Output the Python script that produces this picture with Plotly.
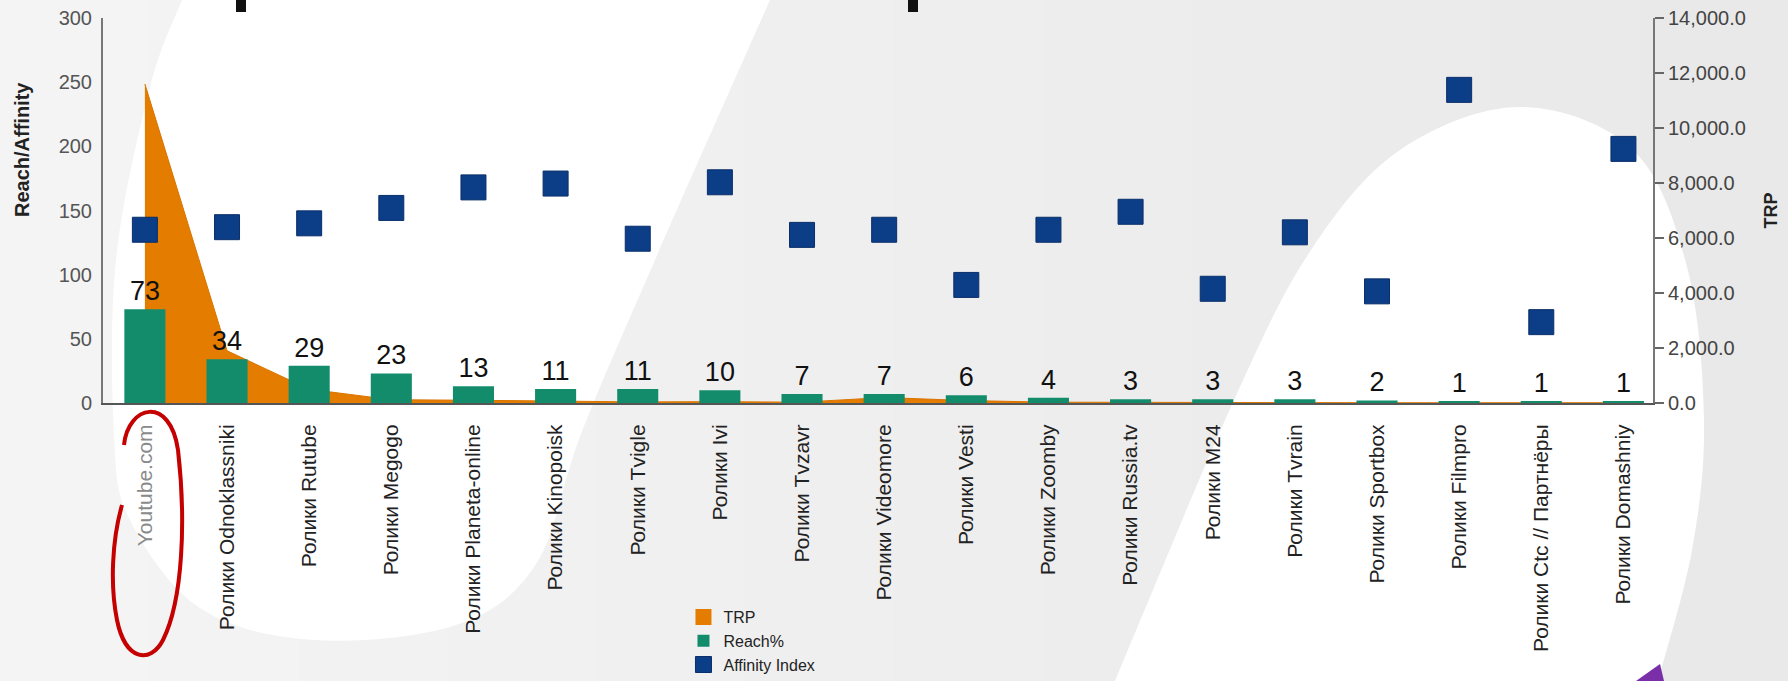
import plotly.graph_objects as go

# ---------------- data ----------------
categories = [
    "Youtube.com", "Ролики Odnoklassniki", "Ролики Rutube", "Ролики Megogo",
    "Ролики Planeta-online", "Ролики Kinopoisk", "Ролики Tvigle", "Ролики Ivi",
    "Ролики Tvzavr", "Ролики Videomore", "Ролики Vesti", "Ролики Zoomby",
    "Ролики Russia.tv", "Ролики M24", "Ролики Tvrain", "Ролики Sportbox",
    "Ролики Filmpro", "Ролики Ctc // Партнёры", "Ролики Domashniy",
]
reach = [73, 34, 29, 23, 13, 11, 11, 10, 7, 7, 6, 4, 3, 3, 3, 2, 1, 1, 1]
affinity = [135, 137, 140, 152, 168, 171, 128, 172, 131, 135, 92, 135, 149, 89, 133, 87, 244, 63, 198]
trp = [11600, 1900, 500, 120, 100, 60, 40, 50, 30, 200, 90, 30, 20, 20, 20, 10, 10, 10, 10]

left_ticks = [0, 50, 100, 150, 200, 250, 300]
right_ticks = [0, 2000, 4000, 6000, 8000, 10000, 12000, 14000]

# tick labels (first one greyed as in the slide)
tick_text = ['<span style="color:#8a8a8a">' + categories[0] + '</span>'] + categories[1:]

# ---------------- geometry helpers for background decoration ----------------
W, H = 1788, 681
L_M, R_M, T_M, B_M = 103, 135, 18, 278
PW = W - L_M - R_M
PH = H - T_M - B_M


def px(x, y):
    return (x - L_M) / PW, (H - B_M - y) / PH


def path_from(cmds):
    out = []
    for c, pts in cmds:
        s = c
        for (x, y) in pts:
            a, b = px(x, y)
            s += f" {a:.5f},{b:.5f}"
        out.append(s)
    return " ".join(out)


def smooth(points):
    # Catmull-Rom -> cubic bezier for a decorative outline
    cmds = [("M", [points[0]])]
    n = len(points)
    for i in range(n - 1):
        p0 = points[i - 1] if i > 0 else points[i]
        p1 = points[i]
        p2 = points[i + 1]
        p3 = points[i + 2] if i + 2 < n else points[i + 1]
        c1 = (p1[0] + (p2[0] - p0[0]) / 6, p1[1] + (p2[1] - p0[1]) / 6)
        c2 = (p2[0] - (p3[0] - p1[0]) / 6, p2[1] - (p3[1] - p1[1]) / 6)
        cmds.append(("C", [c1, c2, p2]))
    return cmds


left_pts = [(770, 0), (655, 260), (581, 434), (536, 564), (456, 625), (313, 640),
            (200, 608), (130, 520), (114, 434), (116, 260), (150, 87), (182, 0)]
white_left = smooth(left_pts) + [("Z", [])]
arc_pts = [(1115, 681), (1234, 400), (1311, 250), (1400, 150), (1520, 107),
           (1633, 150), (1687, 267), (1704, 420), (1692, 550), (1658, 681)]
white_right = smooth(arc_pts) + [("L", [(1115, 681)]), ("Z", [])]

red_loop = [
    ("M", [(124, 445)]),
    ("C", [(128, 405), (170, 395), (178, 450)]),
    ("C", [(186, 520), (183, 600), (163, 640)]),
    ("C", [(150, 665), (125, 660), (117, 620)]),
    ("C", [(110, 585), (112, 540), (122, 505)]),
]
purple_bit = [("M", [(1636, 681)]), ("L", [(1660, 664)]), ("L", [(1664, 681)]), ("Z", [])]

shapes = []
# soft left-to-right grey gradient of the slide background
grey_steps = ["#f4f4f4", "#f3f3f3", "#f2f2f2", "#f1f1f1", "#f0f0f0", "#efefef",
              "#eeeeee", "#ededed", "#ececec", "#ebebeb", "#eaeaea", "#e9e9e9"]
step_w = W / len(grey_steps)
for i, col in enumerate(grey_steps):
    shapes.append(dict(type="rect", xref="paper", yref="paper",
                       x0=px(i * step_w, 0)[0], x1=px((i + 1) * step_w + 1, 0)[0],
                       y0=px(0, H)[1], y1=px(0, 0)[1], fillcolor=col,
                       line=dict(width=0), layer="below"))
shapes += [
    dict(type="path", xref="paper", yref="paper", path=path_from(white_left),
         fillcolor="#ffffff", line=dict(width=0), layer="below"),
    dict(type="path", xref="paper", yref="paper", path=path_from(white_right),
         fillcolor="#ffffff", line=dict(width=0), layer="below"),
    dict(type="path", xref="paper", yref="paper", path=path_from(red_loop),
         line=dict(color="#c40000", width=4), layer="above"),
    dict(type="path", xref="paper", yref="paper", path=path_from(purple_bit),
         fillcolor="#7a2fa8", line=dict(width=0), layer="above"),
]
for x0 in (236, 908):
    a0, b0 = px(x0, 0)
    a1, b1 = px(x0 + 10, 12)
    shapes.append(dict(type="rect", xref="paper", yref="paper", x0=a0, x1=a1, y0=b1, y1=b0,
                       fillcolor="#111111", line=dict(width=0), layer="above"))

FONT = "Liberation Sans, Arial, sans-serif"

# ---------------- figure ----------------
fig = go.Figure()
fig.add_trace(go.Scatter(
    x=categories, y=trp, name="TRP", mode="lines", fill="tozeroy", showlegend=False,
    legendgroup="trp", line=dict(color="#d87400", width=1), fillcolor="#e47c00", yaxis="y",
))
# legend swatch for the TRP area (square, as in the original legend)
fig.add_trace(go.Scatter(
    x=[None], y=[None], name="TRP", mode="markers", legendgroup="trp", yaxis="y",
    marker=dict(symbol="square", size=16, color="#e47c00"),
))
fig.add_trace(go.Bar(
    x=categories, y=reach, name="Reach%", marker=dict(color="#138c6c", line=dict(width=0)),
    yaxis="y2", text=reach, textposition="outside", cliponaxis=False,
    textfont=dict(size=27, color="#111111", family=FONT),
))
fig.add_trace(go.Scatter(
    x=categories, y=affinity, name="Affinity Index", mode="markers", yaxis="y2",
    marker=dict(symbol="square", size=25, color="#0c3d87", line=dict(color="#0a2f6a", width=1)),
))

fig.update_layout(
    width=W, height=H,
    margin=dict(l=L_M, r=R_M, t=T_M, b=B_M, autoexpand=False),
    paper_bgcolor="#eeeeee", plot_bgcolor="rgba(0,0,0,0)",
    font=dict(family=FONT, color="#222222"),
    bargap=0.5,
    showlegend=True,
    legend=dict(x=0.3745, y=px(0, 600)[1], xanchor="left", yanchor="top",
                font=dict(size=16, color="#222222"), bgcolor="rgba(0,0,0,0)",
                tracegroupgap=0, itemwidth=30),
    xaxis=dict(
        type="category", range=[-0.51, 18.36], tickvals=categories, ticktext=tick_text,
        tickangle=-90, ticks="outside", ticklen=11, tickcolor="rgba(0,0,0,0)",
        tickfont=dict(size=21, color="#222222"), showline=True, linecolor="#555555",
        linewidth=2, showgrid=False, zeroline=False,
    ),
    yaxis=dict(
        side="right", range=[0, 14000], tickvals=right_ticks, tickformat=",.1f",
        ticks="outside", ticklen=9, tickwidth=1.5, tickcolor="#666666",
        showline=True, linecolor="#777777", linewidth=2, showgrid=False, zeroline=False,
        tickfont=dict(size=20, color="#444444"),
        title=dict(text="<b>TRP</b>", font=dict(size=18, color="#222222"), standoff=20),
    ),
    yaxis2=dict(
        overlaying="y", side="left", range=[0, 300], tickvals=left_ticks,
        showline=True, linecolor="#777777", linewidth=2, showgrid=False, zeroline=False,
        ticks="", ticklabelstandoff=5, tickfont=dict(size=20, color="#555555"),
    ),
    shapes=shapes,
    annotations=[dict(
        text="<b>Reach/Affinity</b>", xref="paper", yref="paper",
        x=px(22, 150)[0], y=px(22, 150)[1], textangle=-90, showarrow=False,
        font=dict(size=20, color="#222222"), xanchor="center", yanchor="middle",
    )],
)

fig.write_html(
    "out.html",
    config={"displayModeBar": False},
    post_script="document.body.style.margin='0';document.body.style.padding='0';",
)
